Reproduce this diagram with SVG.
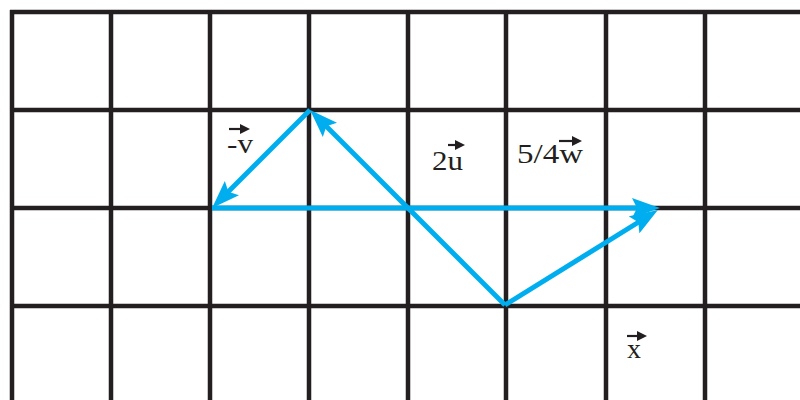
<svg xmlns="http://www.w3.org/2000/svg" width="800" height="400" viewBox="0 0 800 400">
<style>
.grid line{stroke:#231f20;stroke-width:4.5}
.vec{stroke:#00aeef;stroke-width:5;fill:none}
.lbl{font-family:"Liberation Serif","Times New Roman",serif;font-size:27px;fill:#231f20}
.va{stroke:#231f20;stroke-width:2.2}
</style>
<defs>
<marker id="ah" viewBox="0 0 28 20" refX="14" refY="10" markerWidth="28" markerHeight="20" markerUnits="userSpaceOnUse" orient="auto">
<path d="M0,0 L28,10 L0,20 L5,10 z" fill="#00aeef"/>
</marker>
<marker id="sh" viewBox="0 0 10 10" refX="2" refY="5" markerWidth="10" markerHeight="10" markerUnits="userSpaceOnUse" orient="auto">
<path d="M0,0 L10,5 L0,10 z" fill="#231f20"/>
</marker>
</defs>
<rect width="800" height="400" fill="#fff"/>
<g id="grid" class="grid">
<line x1="10" y1="12" x2="800" y2="12"/>
<line x1="10" y1="110" x2="800" y2="110"/>
<line x1="10" y1="208" x2="800" y2="208"/>
<line x1="10" y1="306" x2="800" y2="306"/>
<line x1="12" y1="10" x2="12" y2="400"/>
<line x1="111" y1="10" x2="111" y2="400"/>
<line x1="210" y1="10" x2="210" y2="400"/>
<line x1="309" y1="10" x2="309" y2="400"/>
<line x1="408" y1="10" x2="408" y2="400"/>
<line x1="506" y1="10" x2="506" y2="400"/>
<line x1="606" y1="10" x2="606" y2="400"/>
<line x1="705" y1="10" x2="705" y2="400"/>
</g>
<g id="connectors">
<line class="vec" x1="310" y1="110" x2="222" y2="198" marker-end="url(#ah)"/>
<line class="vec" x1="505" y1="305" x2="320" y2="120" marker-end="url(#ah)"/>
<line class="vec" x1="212" y1="208" x2="646" y2="208" marker-end="url(#ah)"/>
<line class="vec" x1="505" y1="305" x2="646" y2="217.5" marker-end="url(#ah)"/>
</g>
<g id="label-v">
<text class="lbl" x="227" y="153" textLength="26" lengthAdjust="spacingAndGlyphs">-v</text>
<line class="va" x1="229" y1="129" x2="242" y2="129" marker-end="url(#sh)"/>
</g>
<g id="label-2u">
<text class="lbl" x="432" y="170" textLength="31" lengthAdjust="spacingAndGlyphs">2u</text>
<line class="va" x1="448" y1="145" x2="457" y2="145" marker-end="url(#sh)"/>
</g>
<g id="label-w">
<text class="lbl" x="517" y="163" textLength="66" lengthAdjust="spacingAndGlyphs">5/4w</text>
<line class="va" x1="559" y1="141" x2="574" y2="141" marker-end="url(#sh)"/>
</g>
<g id="label-x">
<text class="lbl" x="627" y="358" textLength="14" lengthAdjust="spacingAndGlyphs">x</text>
<line class="va" x1="627" y1="336" x2="639" y2="336" marker-end="url(#sh)"/>
</g>
</svg>
